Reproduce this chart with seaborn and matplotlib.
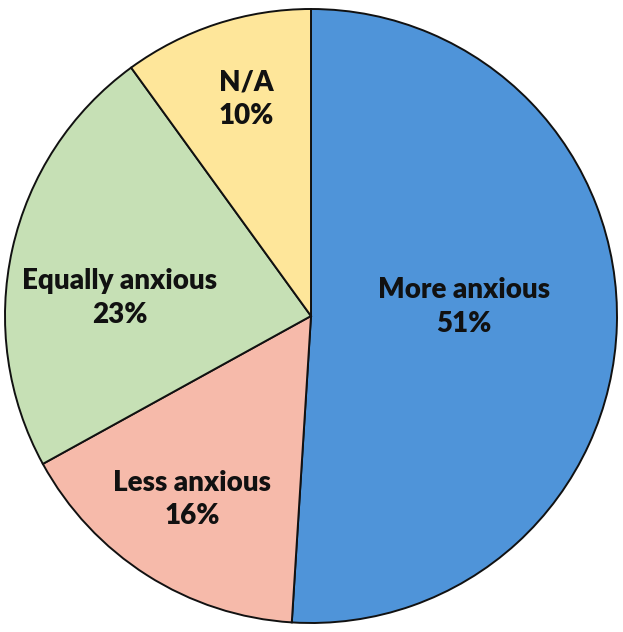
import matplotlib
matplotlib.use("Agg")
import matplotlib.pyplot as plt
import seaborn as sns
import numpy as np

categories = ["More anxious", "Less anxious", "Equally anxious", "N/A"]
values = [51, 16, 23, 10]
colors = ["#4F94D9", "#F6BAAA", "#C6E0B5", "#FEE69A"]
label_dist = [0.50, 0.713, 0.627, 0.737]
label_angle_shift = [5.2, -0.6, 7.2, -1.3]

sns.set_theme(style="white")
plt.rcParams["font.family"] = ["Lato", "DejaVu Sans"]

fig = plt.figure(figsize=(6.23, 6.32), dpi=100)
ax = fig.add_axes([0, 0, 1, 1])
wedges, _ = ax.pie(values, colors=colors, startangle=90, counterclock=False,
                   radius=1, wedgeprops=dict(edgecolor="#111111", linewidth=1.4))
for w, cat, v, d, s in zip(wedges, categories, values, label_dist, label_angle_shift):
    ang = np.deg2rad((w.theta1 + w.theta2) / 2 + s)
    ax.text(d * np.cos(ang), d * np.sin(ang), f"{cat}\n{v}%", ha="center", va="center",
            fontsize=20, fontweight="heavy", color="#111111", linespacing=1.35)

ax.set_xlim(-311 / 306, (623 - 311) / 306)
ax.set_ylim(-316 / 307, (632 - 316) / 307)
ax.set_aspect("auto")
ax.axis("off")
fig.savefig("out.png", dpi=100, facecolor="white")
